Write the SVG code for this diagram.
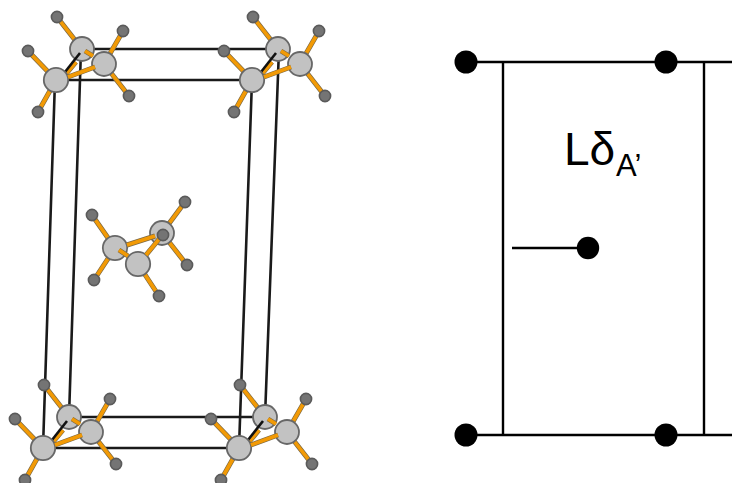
<svg xmlns="http://www.w3.org/2000/svg" xmlns:xlink="http://www.w3.org/1999/xlink" width="732" height="483" viewBox="0 0 732 483">
<style>
.box{stroke:#1a1a1a;stroke-width:2.6;fill:none;stroke-linecap:butt}
.bo{stroke:#7d6a45;stroke-width:5;fill:none}
.b{stroke:#f29a05;stroke-width:3.6;fill:none}
.k{stroke:#111;stroke-width:2.6;fill:none}
.c{fill:#c2c2c2;stroke:#676767;stroke-width:1.8}
.h{fill:#747474;stroke:#5a5a5a;stroke-width:1.6}
.w{stroke:#000;stroke-width:2.4;fill:none}
.d{fill:#000}
text{font-family:"Liberation Sans",Arial,sans-serif;fill:#000}
</style>
<defs>
<path id="bm" d="M26 -31L1 -63M48 -16L67 -49M0 0L-28 -29M48 -16L73 16M0 0L-18 32M10 -6L20 -18"/>
<path id="om" d="M12 -3L39 -13M29 -29L37 -24"/>
<path id="bc" d="M115 248L92 215M115 248L94 280M138 264L159 296M162 233L185 202M162 233L187 265"/>
<path id="oc" d="M127 245L155 236M119 250L128 256M146 255L160 238"/>
<g id="mol">
<use href="#bm" xlink:href="#bm" class="bo"/><use href="#bm" xlink:href="#bm" class="b"/>
<circle class="h" cx="1" cy="-63" r="5.6"/><circle class="h" cx="67" cy="-49" r="5.6"/><circle class="h" cx="-28" cy="-29" r="5.6"/><circle class="h" cx="73" cy="16" r="5.6"/><circle class="h" cx="-18" cy="32" r="5.6"/>
<circle class="c" cx="26" cy="-31" r="12"/>
<path class="k" d="M9 -8L24 -27"/>
<circle class="c" cx="48" cy="-16" r="12"/>
<circle class="c" cx="0" cy="0" r="12.2"/>
<use href="#om" xlink:href="#om" class="bo"/><use href="#om" xlink:href="#om" class="b"/>
</g>
</defs>
<g id="connectors">
<path class="box" d="M56 80H252M82 49H279M43 448H239M69 417H265"/>
<path class="box" d="M55 80L43 448M81 49L69 417M252 80L239 448M279 49L265 417"/>
<path class="w" d="M466 62H732M466 435H732M503 62V435M704 62V435M512 248H588"/>
</g>
<g id="molecule-top-left"><use xlink:href="#mol" href="#mol" x="56" y="80"/></g>
<g id="molecule-top-right"><use xlink:href="#mol" href="#mol" x="252" y="80"/></g>
<g id="molecule-bottom-left"><use xlink:href="#mol" href="#mol" x="43" y="448"/></g>
<g id="molecule-bottom-right"><use xlink:href="#mol" href="#mol" x="239" y="448"/></g>
<g id="molecule-centre">
<use href="#bc" xlink:href="#bc" class="bo"/><use href="#bc" xlink:href="#bc" class="b"/>
<circle class="h" cx="92" cy="215" r="5.6"/><circle class="h" cx="185" cy="202" r="5.6"/><circle class="h" cx="94" cy="280" r="5.6"/><circle class="h" cx="187" cy="265" r="5.6"/><circle class="h" cx="159" cy="296" r="5.6"/>
<circle class="c" cx="162" cy="233" r="12"/>
<circle class="c" cx="115" cy="248" r="12.2"/>
<circle class="c" cx="138" cy="264" r="12.2"/>
<use href="#oc" xlink:href="#oc" class="bo"/><use href="#oc" xlink:href="#oc" class="b"/>
<circle class="h" cx="163" cy="235" r="5.6"/>
</g>
<g id="node-tl"><circle class="d" cx="466" cy="62" r="11.5"/></g>
<g id="node-tr"><circle class="d" cx="666" cy="62" r="11.5"/></g>
<g id="node-bl"><circle class="d" cx="466" cy="435" r="11.5"/></g>
<g id="node-br"><circle class="d" cx="666" cy="435" r="11.5"/></g>
<g id="node-c"><circle class="d" cx="588" cy="248" r="11.2"/></g>
<g id="label"><text x="564" y="165" font-size="46">Lδ</text><text x="616" y="176" font-size="31">A’</text></g>
</svg>
